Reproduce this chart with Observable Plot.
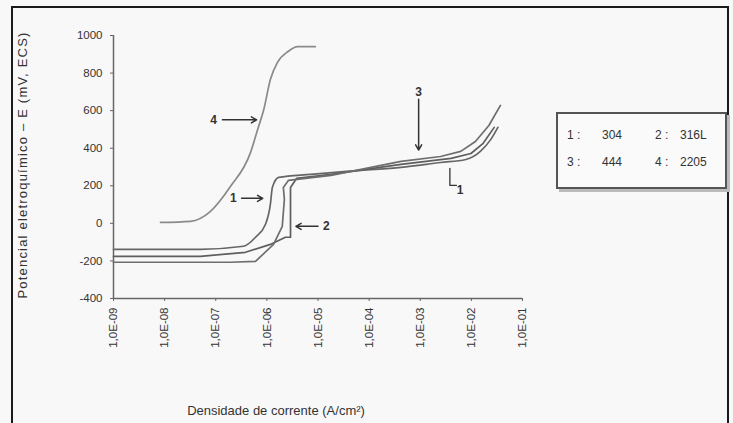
<!DOCTYPE html>
<html>
<head>
<meta charset="utf-8">
<script src="https://cdn.jsdelivr.net/npm/d3@7"></script>
<script src="https://cdn.jsdelivr.net/npm/@observablehq/plot@0.6"></script>
<style>
  html, body { margin: 0; padding: 0; background: #f8f8f8; }
  #wrap { position: relative; width: 733px; height: 423px; overflow: hidden; font-family: "Liberation Sans", Arial, sans-serif; }
  #frame { position: absolute; left: 11px; top: 6px; width: 718px; height: 430px; border: 2.5px solid #1a1a1a; box-sizing: border-box; }
  #chart { position: absolute; left: 0; top: 0; }
  #ytitle { position: absolute; left: 22px; top: 165px; transform: translate(-50%, -50%) rotate(-90deg); white-space: nowrap; font-size: 13px; color: #333; letter-spacing: 1.2px; }
  #xtitle { position: absolute; left: 276px; top: 403px; transform: translateX(-50%); white-space: nowrap; font-size: 13px; color: #333; }
  #legend { position: absolute; left: 556px; top: 112px; width: 171px; height: 77px; border: 2px solid #555; box-sizing: border-box; box-shadow: 3px 3px 0 #bbb; background: #fafafa; font-size: 12px; color: #333; }
  #legend .it { position: absolute; white-space: nowrap; }
</style>
</head>
<body>
<div id="wrap">
  <div id="frame"></div>
  <div id="chart"></div>
  <div id="ytitle">Potencial eletroquímico – E (mV, ECS)</div>
  <div id="xtitle">Densidade de corrente (A/cm²)</div>
  <div id="legend"></div>
</div>
<script>
// ---- Data (current density in A/cm², potential in mV ECS) ----
const seriesNames = ["1", "2", "3", "4"];
const legendKeys = ["1 :", "2 :", "3 :", "4 :"];
const legendSteels = ["304", "316L", "444", "2205"];

const curve1_i = [1.0e-9, 5.0e-8, 3.5e-7, 6.0e-7, 9.4e-7, 1.17e-6, 1.28e-6, 1.7e-6, 7.2e-6, 6.8e-5, 4.2e-4, 2.5e-3, 7.8e-3, 1.5e-2, 2.4e-2, 3.3e-2];
const curve1_E = [-138, -138, -122, -74, -5, 101, 191, 245, 261, 282, 298, 324, 340, 383, 447, 511];

const curve2_i = [1.0e-9, 5.0e-8, 3.8e-7, 1.17e-6, 2.3e-6, 2.9e-6, 2.9e-6, 3.8e-6, 1.8e-5, 4.2e-4, 4.0e-3, 9.8e-3, 1.7e-2, 2.8e-2];
const curve2_E = [-176, -176, -154, -112, -74, -74, 191, 239, 261, 314, 346, 372, 426, 511];

const curve3_i = [1.0e-9, 1.95e-7, 6.0e-7, 1.35e-6, 2.0e-6, 2.2e-6, 2.1e-6, 2.65e-6, 1.8e-5, 4.2e-4, 2.5e-3, 6.2e-3, 1.2e-2, 2.2e-2, 3.7e-2];
const curve3_E = [-207, -207, -202, -112, -16, 128, 191, 229, 255, 330, 356, 383, 436, 521, 628];

const curve4_i = [8.3e-9, 3.2e-8, 7.9e-8, 1.95e-7, 4.8e-7, 6.6e-7, 8.7e-7, 1.17e-6, 1.6e-6, 2.6e-6, 4.0e-6, 8.9e-6];
const curve4_E = [5, 11, 64, 197, 378, 500, 606, 766, 856, 915, 941, 941];

const xTicks = [1e-9, 1e-8, 1e-7, 1e-6, 1e-5, 1e-4, 1e-3, 1e-2, 1e-1];
const yTicks = [-400, -200, 0, 200, 400, 600, 800, 1000];

// annotation labels with arrows
const annoText = ["4", "1", "2", "3", "1"];
const annoX = [9.1e-8, 2.2e-7, 1.45e-5, 9.3e-4, 6.0e-3];
const annoY = [551, 133, -16, 700, 176];
const arrowX1 = [1.35e-7, 3.2e-7, 1.0e-5, 9.3e-4];
const arrowY1 = [551, 133, -16, 660];
const arrowX2 = [6.3e-7, 8.3e-7, 3.7e-6, 9.3e-4];
const arrowY2 = [551, 133, -16, 390];
const hookX = [3.8e-3, 3.8e-3, 5.1e-3];
const hookY = [293, 202, 202];

// ---- Build tables ----
const curves = [
  [curve1_i, curve1_E], [curve2_i, curve2_E], [curve3_i, curve3_E], [curve4_i, curve4_E]
];
const lineData = curves.flatMap(([xs, ys], k) => xs.map((x, j) => ({s: seriesNames[k], i: x, E: ys[j]})));
const annos = annoText.map((t, k) => ({t, x: annoX[k], y: annoY[k]}));
const arrows = arrowX1.map((x, k) => ({x1: x, y1: arrowY1[k], x2: arrowX2[k], y2: arrowY2[k]}));
const hook = hookX.map((x, k) => ({x, y: hookY[k]}));

const fmt = d => "1,0E-" + String(-Math.round(Math.log10(d))).padStart(2, "0");

const plot = Plot.plot({
  width: 733,
  height: 423,
  marginLeft: 113,
  marginRight: 211,
  marginTop: 35,
  marginBottom: 125,
  style: {background: "transparent", fontFamily: "Liberation Sans, Arial, sans-serif", fontSize: "11px", color: "#333"},
  x: {type: "log", domain: [1e-9, 1e-1]},
  y: {domain: [-400, 1000]},
  color: {domain: seriesNames, range: ["#666666", "#5e5e5e", "#6e6e6e", "#8a8a8a"]},
  marks: [
    Plot.axisY({ticks: yTicks, tickFormat: d => String(d), tickSize: 3, tickPadding: 8, label: null, fontSize: 11.5, stroke: "#666"}),
    Plot.axisX({ticks: xTicks, tickFormat: fmt, tickRotate: -90, tickSize: 3, tickPadding: 6, label: null, fontSize: 11.5, stroke: "#666"}),
    Plot.ruleX([1e-9], {stroke: "#666", strokeWidth: 1.5}),
    Plot.ruleY([-400], {stroke: "#666", strokeWidth: 1.5}),
    Plot.line(lineData.filter(d => d.s !== "2" && d.s !== "3"), {x: "i", y: "E", z: "s", stroke: "s", strokeWidth: 1.7, curve: "monotone-x"}),
    Plot.line(lineData.filter(d => d.s === "2" || d.s === "3"), {x: "i", y: "E", z: "s", stroke: "s", strokeWidth: 1.7, curve: "linear"}),
    Plot.arrow(arrows, {x1: "x1", y1: "y1", x2: "x2", y2: "y2", stroke: "#333", strokeWidth: 1.5, headLength: 6}),
    Plot.line(hook, {x: "x", y: "y", stroke: "#333", strokeWidth: 1.3}),
    Plot.text(annos, {x: "x", y: "y", text: "t", fontSize: 12, fontWeight: "bold", fill: "#333"})
  ]
});
document.getElementById("chart").appendChild(plot);

// legend
const legend = document.getElementById("legend");
const keyPos = [[9, 14], [97, 14], [9, 41], [97, 41]];
const valPos = [[44, 14], [122, 14], [44, 41], [122, 41]];
legendKeys.forEach((t, k) => {
  const a = document.createElement("div");
  a.className = "it";
  a.style.left = keyPos[k][0] + "px";
  a.style.top = keyPos[k][1] + "px";
  a.textContent = t;
  legend.appendChild(a);
  const b = document.createElement("div");
  b.className = "it";
  b.style.left = valPos[k][0] + "px";
  b.style.top = valPos[k][1] + "px";
  b.textContent = legendSteels[k];
  legend.appendChild(b);
});
</script>
</body>
</html>
